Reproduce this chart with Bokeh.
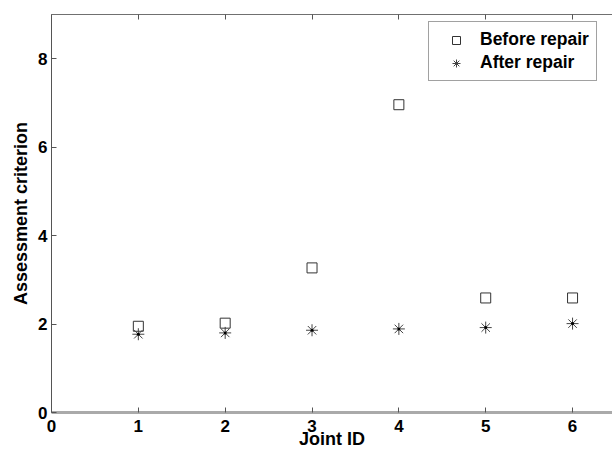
from bokeh.plotting import figure
from bokeh.models import Range1d, LinearAxis, FixedTicker, Legend, LegendItem, ColumnDataSource
from bokeh.embed import file_html
from bokeh.resources import INLINE

joint_id = [1, 2, 3, 4, 5, 6]
before_repair = [1.95, 2.02, 3.27, 6.96, 2.59, 2.59]
after_repair = [1.77, 1.80, 1.86, 1.89, 1.92, 2.01]
x_ticks = [0, 1, 2, 3, 4, 5, 6]
y_ticks = [0, 2, 4, 6, 8]

p = figure(width=612, height=453, output_backend="svg", toolbar_location=None,
           x_range=Range1d(0, 6.46), y_range=Range1d(0, 9),
           min_border_left=51, min_border_right=0, min_border_top=14, min_border_bottom=41,
           x_axis_label="Joint ID", y_axis_label="Assessment criterion")
p.outline_line_color = None
p.grid.visible = False
p.background_fill_color = "white"
p.border_fill_color = "white"

for ax in (p.xaxis[0], p.yaxis[0]):
    ax.major_tick_in = 5
    ax.major_tick_out = 0
    ax.minor_tick_line_color = None
    ax.major_label_text_font = "Liberation Sans"
    ax.major_label_text_font_style = "bold"
    ax.major_label_text_font_size = "17px"
    ax.major_label_text_color = "black"
    ax.axis_label_text_font = "Liberation Sans"
    ax.axis_label_text_font_style = "bold"
    ax.axis_label_text_font_size = "18px"
    ax.axis_label_text_color = "black"
    ax.major_tick_line_color = "#555555"

p.xaxis[0].ticker = FixedTicker(ticks=x_ticks)
p.yaxis[0].ticker = FixedTicker(ticks=y_ticks)
p.xaxis[0].axis_line_color = "#aaaaaa"
p.xaxis[0].axis_line_width = 3
p.xaxis[0].major_label_standoff = 7
p.xaxis[0].axis_label_standoff = -6
p.yaxis[0].axis_line_color = "#555555"
p.yaxis[0].axis_line_width = 1
p.yaxis[0].major_label_standoff = 4
p.yaxis[0].axis_label_standoff = 4

top = LinearAxis(ticker=FixedTicker(ticks=x_ticks),
                 major_label_overrides={t: "" for t in x_ticks},
                 major_tick_in=5, major_tick_out=0, minor_tick_line_color=None,
                 axis_line_color="#707070", major_tick_line_color="#555555")
p.add_layout(top, "above")

src = ColumnDataSource(dict(x=joint_id, b=before_repair, a=after_repair))
r1 = p.scatter("x", "b", source=src, marker="square", size=10, fill_color=None,
               line_color="#333333", line_width=1)
r2 = p.scatter("x", "a", source=src, marker="asterisk", size=12,
               line_color="#444444", line_width=1)
r3 = p.scatter("x", "a", source=src, marker="circle", size=3,
               fill_color="black", line_color=None)

legend = Legend(items=[LegendItem(label="Before repair", renderers=[r1]),
                       LegendItem(label="After repair", renderers=[r2])],
                location=(377, 331))
legend.label_text_font = "Liberation Sans"
legend.label_text_font_style = "bold"
legend.label_text_font_size = "17.5px"
legend.label_text_color = "black"
legend.border_line_color = "#444444"
legend.border_line_width = 1
legend.glyph_width = 40
legend.spacing = 2
legend.padding = 7
legend.margin = 0
legend.label_standoff = 4
p.add_layout(legend, "center")

open("out.html", "w").write(file_html(p, INLINE))
